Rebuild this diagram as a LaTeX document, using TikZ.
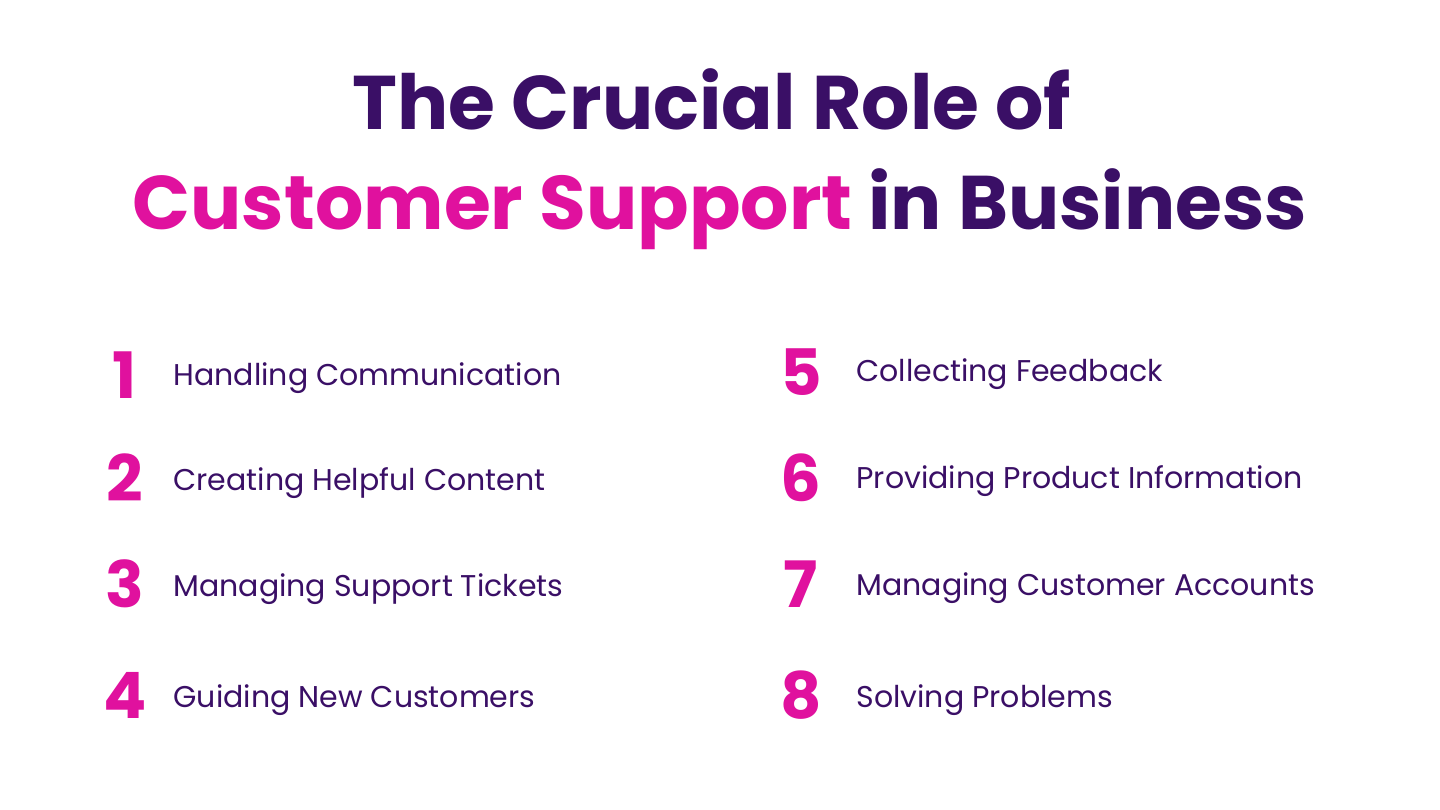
\documentclass[tikz,border=0pt]{standalone}
\usepackage{fontspec}
\setmainfont{Poppins}
\definecolor{dk}{HTML}{3A0F66}
\definecolor{mg}{HTML}{E0119E}
\begin{document}
\begin{tikzpicture}[x=1pt,y=-1pt,
 num/.style={anchor=base,text=mg,font=\fontsize{64}{64}\selectfont\bfseries},
 item/.style={anchor=base west,text=dk,font=\fontsize{30}{30}\selectfont}]
\useasboundingbox[fill=white] (0,0) rectangle (1440,810);
\node[anchor=base,text=dk,font=\fontsize{76}{76}\selectfont\bfseries] (t1) at (712,130) {The Crucial Role of};
\node[anchor=base,font=\fontsize{76}{76}\selectfont\bfseries] (t2) at (720,230) {\textcolor{mg}{Customer Support} \textcolor{dk}{in Business}};
\node[num] (n1) at (125,398) {1};
\node[num] (n2) at (125,501) {2};
\node[num] (n3) at (125,607) {3};
\node[num] (n4) at (125,718) {4};
\node[num] (n5) at (801,395) {5};
\node[num] (n6) at (801,501) {6};
\node[num] (n7) at (801,607) {7};
\node[num] (n8) at (801,718) {8};
\node[item] (i1) at (170,385) {Handling Communication};
\node[item] (i2) at (170,490) {Creating Helpful Content};
\node[item] (i3) at (170,596) {Managing Support Tickets};
\node[item] (i4) at (170,707) {Guiding New Customers};
\node[item] (i5) at (853,381) {Collecting Feedback};
\node[item] (i6) at (853,488) {Providing Product Information};
\node[item] (i7) at (853,595) {Managing Customer Accounts};
\node[item] (i8) at (853,707) {Solving Problems};
\end{tikzpicture}
\end{document}
